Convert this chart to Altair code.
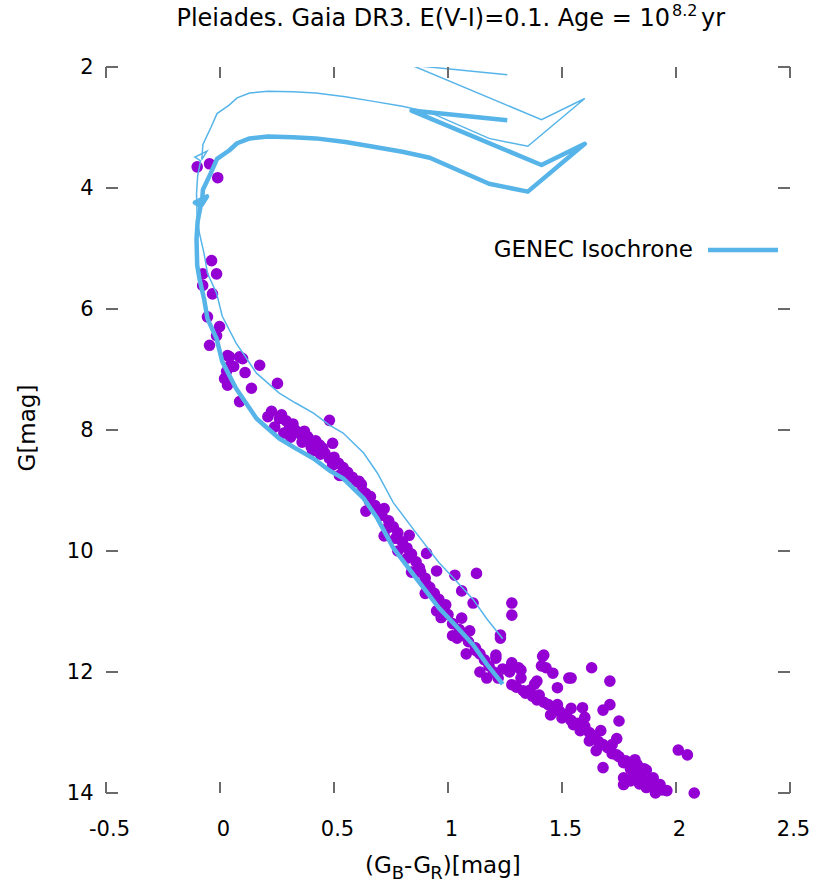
import altair as alt
import pandas as pd

# ---------------- data ----------------
# Observed Pleiades members (Gaia DR3): colour (G_B - G_R) and G magnitude
star_bp_rp = [
    -0.10, -0.046, -0.01,
    -0.037, -0.015, -0.076, -0.076, -0.033, -0.055, -0.002, -0.015, -0.046, 0.042, 0.099, 0.174,
    0.029, 0.252, 0.033, 0.086, 0.042, 0.033, 0.138, 0.086, 0.226, 0.261, 0.305, 0.35, 0.384,
    0.48, 0.437, 0.494, 0.406, 0.48, 0.494, 0.538, 0.599, 0.625, 0.656, 0.70,
    0.27, 0.29, 0.32, 0.33, 0.37, 0.39, 0.42, 0.45, 0.46, 0.50, 0.52, 0.54, 0.56, 0.58, 0.62,
    0.64, 0.66, 0.68, 0.72, 0.74, 0.76, 0.78, 0.80, 0.82, 0.84, 0.86, 0.88, 0.90, 0.92, 0.94,
    0.96, 0.98, 1.00, 1.02, 1.05, 1.07, 1.09, 1.12, 1.14, 1.16, 1.18, 1.20, 1.22,
    0.72, 0.78, 0.84, 0.90, 0.97, 1.02, 1.08, 1.14,
    0.524, 0.61, 0.656, 0.64, 0.71, 0.735, 0.77, 0.83, 0.906, 0.82, 0.875, 0.95, 1.03, 1.125,
    1.06, 1.11, 0.906, 0.99, 0.95, 1.06, 1.095, 1.04, 1.28, 1.28, 1.23, 1.125, 1.21, 1.28, 1.31,
    1.415, 1.43, 1.53, 1.39, 1.17,
    1.23, 1.21, 1.28, 1.32, 1.42, 1.41, 1.46, 1.54, 1.63, 1.71, 1.48, 1.28, 1.33, 1.39, 1.44,
    1.48, 1.59, 1.68, 1.71, 1.75, 1.45, 1.50, 1.55, 1.58, 1.67, 1.62, 1.65, 1.72, 1.74, 1.68,
    1.78, 1.83, 1.87, 1.77, 1.81, 1.90, 1.77, 1.87, 1.93, 1.96, 1.91, 2.01, 2.05, 2.08,
    1.30, 1.34, 1.37, 1.36, 1.40, 1.42, 1.47, 1.49, 1.52, 1.54, 1.57, 1.60, 1.62, 1.64, 1.66,
    1.68, 1.70, 1.72, 1.75, 1.77, 1.80, 1.82, 1.85, 1.88, 1.90, 1.92, 1.94, 1.84, 1.80, 1.86,
    1.82, 1.74, 1.60, 1.54, 1.38, 1.32, 1.27, 1.24,
    0.21, 0.24, 0.28, 0.31, 0.36, 0.40, 0.44, 0.06, 0.11, 0.02,
]
star_g = [
    3.65, 3.60, 3.83,
    5.20, 5.42, 5.42, 5.61, 5.75, 6.13, 6.29, 6.44, 6.60, 6.79, 6.82, 6.93,
    7.03, 7.23, 6.77, 6.79, 6.95, 7.26, 7.31, 7.53, 7.69, 7.81, 7.97, 8.06, 8.11,
    7.84, 8.25, 8.22, 8.34, 8.47, 8.58, 8.75, 8.85, 9.01, 9.18, 9.34,
    7.75, 7.85, 7.90, 8.00, 8.02, 8.15, 8.18, 8.30, 8.38, 8.45, 8.55, 8.62, 8.70, 8.78, 8.90,
    9.05, 9.10, 9.25, 9.30, 9.50, 9.60, 9.70, 9.85, 9.95, 10.05, 10.18, 10.35, 10.45, 10.60, 10.70,
    10.80, 10.95, 11.05, 11.20, 11.30, 11.40, 11.50, 11.60, 11.70, 11.80, 11.90, 12.00, 12.10,
    9.75, 10.00, 10.35, 10.70, 11.10, 11.40, 11.70, 12.00,
    8.75, 8.85, 9.10, 9.34, 9.41, 9.62, 9.79, 9.74, 10.04, 10.12, 10.28, 10.33, 10.40, 10.37,
    10.66, 10.86, 10.56, 10.89, 10.99, 11.11, 11.32, 11.44, 10.86, 11.06, 11.39, 11.65, 11.77, 11.88, 11.93,
    11.74, 11.93, 12.10, 12.15, 12.10,
    11.44, 11.72, 11.85, 11.97, 11.72, 11.90, 12.02, 12.10, 11.93, 12.15, 12.26, 12.21, 12.31, 12.46, 12.54,
    12.54, 12.59, 12.63, 12.54, 12.81, 12.71, 12.76, 12.87, 12.97, 12.97, 13.14, 13.30, 13.20, 13.37, 13.58,
    13.47, 13.53, 13.62, 13.75, 13.75, 13.75, 13.86, 13.91, 13.86, 13.96, 14.00, 13.29, 13.37, 14.00,
    12.25, 12.35, 12.40, 12.30, 12.38, 12.50, 12.60, 12.65, 12.70, 12.80, 12.85, 12.90, 13.00, 13.05, 13.15,
    13.20, 13.25, 13.35, 13.40, 13.50, 13.60, 13.65, 13.70, 13.80, 13.85, 13.90, 13.95, 13.85, 13.80, 13.60,
    13.45, 13.10, 12.75, 12.60, 12.20, 12.10, 12.00, 11.95,
    7.78, 7.95, 8.05, 8.12, 8.20, 8.28, 8.40, 6.95, 7.05, 7.15,
]

# GENEC isochrone (log age 8.2): colour and G of single stars
iso_bp_rp = [
    1.24, 1.17, 1.11, 1.03, 0.96, 0.86, 0.76, 0.69, 0.63, 0.54,
    0.48, 0.41, 0.33, 0.26, 0.16, 0.07, 0.01, -0.015, -0.055, -0.07,
    -0.09, -0.10, -0.103, -0.098, -0.085, -0.11, -0.057, -0.08, -0.075, -0.04,
    -0.013, 0.04, 0.075, 0.13, 0.21, 0.32, 0.42, 0.55, 0.66, 0.80,
    0.92, 1.18, 1.35, 1.60, 1.41, 0.84, 1.26,
]
iso_g = [
    12.20, 11.87, 11.55, 11.22, 10.94, 10.45, 9.95, 9.46, 9.13, 8.80,
    8.67, 8.47, 8.30, 8.14, 7.81, 7.31, 6.87, 6.49, 6.16, 5.83,
    5.50, 5.28, 4.84, 4.55, 4.30, 4.24, 4.14, 4.28, 4.03, 3.75,
    3.52, 3.38, 3.26, 3.18, 3.15, 3.16, 3.18, 3.24, 3.31, 3.40,
    3.50, 3.93, 4.06, 3.27, 3.62, 2.72, 2.88,
]
# same isochrone for equal-mass binaries (thin line)
iso_binary_g = [
    11.45, 11.12, 10.80, 10.47, 10.19, 9.70, 9.20, 8.71, 8.38, 8.05,
    7.92, 7.72, 7.55, 7.39, 7.06, 6.56, 6.12, 5.74, 5.41, 5.08,
    4.75, 4.53, 4.09, 3.80, 3.55, 3.49, 3.39, 3.53, 3.28, 3.00,
    2.77, 2.63, 2.51, 2.43, 2.40, 2.41, 2.43, 2.49, 2.56, 2.65,
    2.75, 3.18, 3.31, 2.52, 2.87, 1.97, 2.13,
]

x_ticks = [-0.5, 0, 0.5, 1, 1.5, 2, 2.5]
y_ticks = [2, 4, 6, 8, 10, 12, 14]

# ---------------- layout ----------------
W, H = 684, 726
FONT = "DejaVu Sans"
STAR = "#9400d3"
ISO = "#56b4e9"
TICK = "#6a6a6a"

x_scale = alt.Scale(domain=[-0.5, 2.5], nice=False, zero=False)
y_scale = alt.Scale(domain=[2, 14], reverse=True, nice=False, zero=False)
x_axis = alt.Axis(values=x_ticks, labelExpr="'' + datum.value", title=None,
                  labelPadding=25, labelOffset=3, labelFlush=False)
y_axis = alt.Axis(values=y_ticks, labelExpr="'' + datum.value", title=None,
                  labelPadding=13, labelFlush=False)

stars = pd.DataFrame({"bp_rp": star_bp_rp, "g": star_g})
iso = pd.DataFrame({"bp_rp": iso_bp_rp, "g": iso_g, "gb": iso_binary_g,
                    "i": list(range(len(iso_bp_rp)))})
xt = pd.DataFrame({"t": x_ticks})
yt = pd.DataFrame({"t": y_ticks})
one = pd.DataFrame({"a": [0]})


def X(field):
    return alt.X(field, type="quantitative", scale=x_scale, axis=x_axis)


def Y(field):
    return alt.Y(field, type="quantitative", scale=y_scale, axis=y_axis)


points = alt.Chart(stars).mark_circle(size=135, color=STAR, opacity=1).encode(
    x=X("bp_rp"), y=Y("g"))

thin = alt.Chart(iso).mark_line(color=ISO, strokeWidth=1.5, clip=True).encode(
    x=X("bp_rp"), y=Y("gb"), order="i:Q")
thick = alt.Chart(iso).mark_line(color=ISO, strokeWidth=4.5, clip=True,
                                 strokeJoin="round").encode(
    x=X("bp_rp"), y=Y("g"), order="i:Q")

tick_top = alt.Chart(xt).mark_rule(color=TICK, strokeWidth=2).encode(
    x=X("t"), y=alt.value(0), y2=alt.value(11))
tick_bot = alt.Chart(xt).mark_rule(color=TICK, strokeWidth=2).encode(
    x=X("t"), y=alt.value(H - 11), y2=alt.value(H))
tick_left = alt.Chart(yt).mark_rule(color=TICK, strokeWidth=2).encode(
    y=Y("t"), x=alt.value(0), x2=alt.value(12))
tick_right = alt.Chart(yt).mark_rule(color=TICK, strokeWidth=2).encode(
    y=Y("t"), x=alt.value(W - 12), x2=alt.value(W))


def txt(s, x, y, size=20, align="left", baseline="alphabetic", angle=0):
    return alt.Chart(one).mark_text(text=s, font=FONT, fontSize=size, color="black",
                                    align=align, baseline=baseline,
                                    angle=angle).encode(x=alt.value(x), y=alt.value(y))


title = (txt("Pleiades. Gaia DR3. E(V-I)=0.1. Age = 10", 564, -41, size=24, align="right")
         + txt("8.2", 566, -51, size=16)
         + txt("yr", 595, -41, size=24))

xt0 = 259
xtitle = (txt("(G", xt0, 806, size=23)
          + txt("B", xt0 + 26.8, 812, size=18)
          + txt("-G", xt0 + 39.1, 806, size=23)
          + txt("R", xt0 + 65.2, 812, size=18)
          + txt(")[mag]", xt0 + 77.7, 806, size=23))

ytitle = txt("G[mag]", -78, 361, size=23, align="center", baseline="middle", angle=270)

legend_text = txt("GENEC Isochrone", 587, 183, size=23, align="right", baseline="middle")
legend_line = alt.Chart(one).mark_rule(color=ISO, strokeWidth=4.5).encode(
    x=alt.value(602), x2=alt.value(672), y=alt.value(183))

chart = alt.layer(
    points, thin, thick,
    tick_top, tick_bot, tick_left, tick_right,
    title, xtitle, ytitle, legend_text, legend_line,
).properties(
    width=W, height=H,
    padding={"left": 106, "top": 67, "right": 26, "bottom": 93},
    autosize=alt.AutoSizeParams(type="none"),
    background="white",
).configure_view(stroke=None).configure_axis(
    domain=False, ticks=False, grid=False,
    labelFont=FONT, labelFontSize=21, labelColor="black",
)

chart.save("out.html", embed_options={"renderer": "svg", "actions": False})
